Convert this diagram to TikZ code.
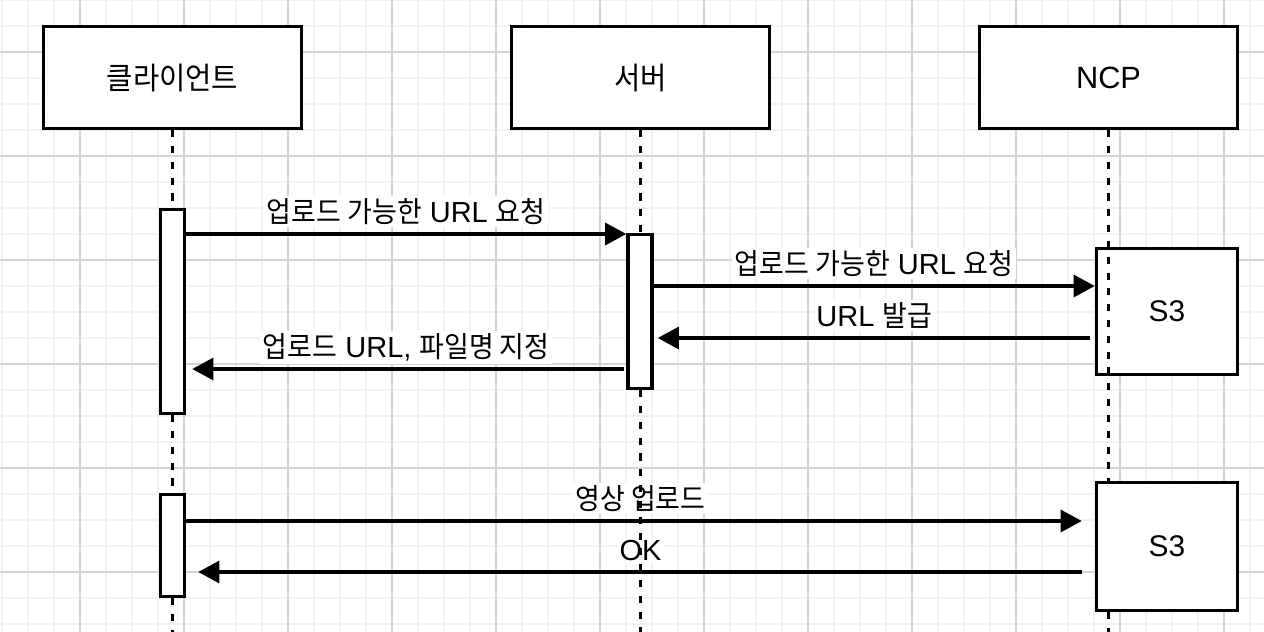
\documentclass[tikz,border=0pt]{standalone}
\usepackage{fontspec}
\setmainfont{Liberation Sans}
\newfontfamily\kr[FakeStretch=0.93]{Noto Sans CJK KR}
\usepackage{xcolor}
\usetikzlibrary{arrows.meta}
\usetikzlibrary{positioning}

\definecolor{gridminor}{RGB}{242,242,242}
\definecolor{gridmajor}{RGB}{212,212,212}

\begin{document}
\begin{tikzpicture}[
    x=0.02cm, y=-0.02cm,
    every node/.style={font=\fontsize{16.5pt}{20pt}\selectfont},
    actor/.style={rectangle, draw, line width=2pt, fill=white, minimum width=5.16cm, minimum height=2.04cm, inner sep=0pt, font=\fontsize{17.5pt}{21pt}\selectfont},
    activation/.style={rectangle, draw, line width=2pt, fill=white, minimum width=0.48cm, inner sep=0pt},
    store/.style={rectangle, draw, line width=2pt, fill=white, minimum width=2.82cm, inner sep=0pt, font=\fontsize{17pt}{21pt}\selectfont},
    lifeline/.style={line width=1.8pt, dash pattern=on 4pt off 5pt},
    msg/.style={line width=1.9pt, -{Triangle[length=12pt, width=12.5pt]}},
    msg label/.style={fill=white, inner sep=1.5pt, anchor=base, yshift=0.23cm},
  ]

  \useasboundingbox (0,0) rectangle (1264,632);

  % grid
  \foreach \gx in {2,28,...,1264} \draw[gridminor, line width=1pt] (\gx,0) -- (\gx,632);
  \foreach \gy in {0,26,...,632} \draw[gridminor, line width=1pt] (0,\gy) -- (1264,\gy);
  \foreach \gx in {80,184,...,1264} \draw[gridmajor, line width=0.6pt] (\gx,0) -- (\gx,632);
  \foreach \gy in {52,156,...,632} \draw[gridmajor, line width=0.6pt] (0,\gy) -- (1264,\gy);

  \node[actor] (client) at (172.5,77.5)  {{\kr 클라이언트}};
  \node[actor] (server) at (640.5,77.5)  {{\kr 서버}};
  \node[actor] (ncp)    at (1108.5,77.5) {NCP};

  \node[activation, minimum height=4.08cm] (act1) at (172.5,311.5) {};
  \node[activation, minimum height=3.08cm] (srv)  at (640,311.5)   {};
  \node[activation, minimum height=2.04cm] (act2) at (172.5,545.5) {};

  \node[store, minimum height=2.52cm] (s3a) at (1167,311.5) {S3};
  \node[store, minimum height=2.56cm] (s3b) at (1167,546.5) {S3};

  \draw[msg] (act1.east |- 0,234) -- node[msg label] {{\kr 업로드 가능한} URL {\kr 요청}} (srv.west |- 0,234);
  \draw[msg] (srv.east |- 0,286) -- node[msg label] {{\kr 업로드 가능한} URL {\kr 요청}} (s3a.west |- 0,286);
  \draw[msg, shorten <=0.1cm, shorten >=0.08cm] (s3a.west |- 0,338) -- node[msg label] {URL {\kr 발급}} (srv.east |- 0,338);
  \draw[msg, shorten <=0.04cm, shorten >=0.12cm] (srv.west |- 0,369) -- node[msg label] {{\kr 업로드} URL, {\kr 파일명 지정}} (act1.east |- 0,369);
  \draw[msg, shorten >=0.26cm] (act2.east |- 0,521) -- node[msg label] {{\kr 영상 업로드}} (s3b.west |- 0,521);
  \draw[msg, shorten <=0.26cm, shorten >=0.24cm] (s3b.west |- 0,572) -- node[msg label] {OK} (act2.east |- 0,572);

  % lifelines
  \draw[lifeline] (client.south) -- (act1.north);
  \draw[lifeline] (act1.south) -- (act2.north);
  \draw[lifeline] (act2.south) -- (act2.south |- 0,640);
  \draw[lifeline] (server.south) -- (server.south |- srv.north);
  \draw[lifeline] (server.south |- srv.south) -- (server.south |- 0,640);
  \draw[lifeline] (ncp.south) -- (ncp.south |- s3b.north);
  \draw[lifeline] (ncp.south |- s3b.south) -- (ncp.south |- 0,640);

\end{tikzpicture}
\end{document}
